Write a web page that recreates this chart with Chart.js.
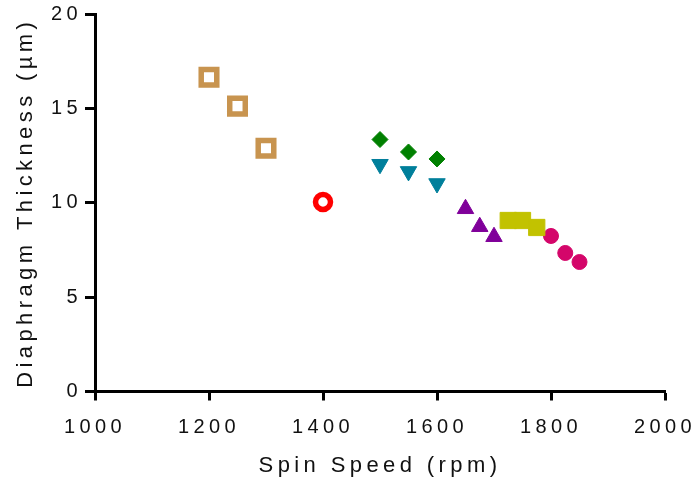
<!DOCTYPE html>
<html>
<head>
<meta charset="utf-8">
<script src="https://cdn.jsdelivr.net/npm/chart.js@4"></script>
<style>
html,body{margin:0;padding:0;background:#fff;}
#wrap{width:694px;height:482px;position:relative;}
</style>
</head>
<body>
<div id="wrap"><canvas id="c" width="694" height="482"></canvas></div>
<script>
// ---- data ----
const xTicks = [1000, 1200, 1400, 1600, 1800, 2000];
const yTicks = [0, 5, 10, 15, 20];
const xTitle = 'Spin Speed (rpm)';
const yTitle = 'Diaphragm Thickness (µm)';

const tanX = [1200, 1250, 1300];
const tanY = [16.65, 15.12, 12.89];
const redX = [1400];
const redY = [10.04];
const greenX = [1500, 1550, 1600];
const greenY = [13.35, 12.69, 12.32];
const tealX = [1500, 1550, 1600];
const tealY = [12.04, 11.66, 11.02];
const purpleX = [1650, 1675, 1700];
const purpleY = [9.68, 8.73, 8.2];
const yellowX = [1725, 1750, 1775];
const yellowY = [9.06, 9.06, 8.69];
const magentaX = [1800, 1825, 1850];
const magentaY = [8.24, 7.34, 6.86];

function pts(xs, ys) { return xs.map((x, i) => ({x: x, y: ys[i]})); }

const FONT = "'Liberation Sans', Arial, sans-serif";

const spacing = {
  id: 'spacing',
  beforeDraw(chart) { chart.ctx.letterSpacing = '4.4px'; }
};

new Chart(document.getElementById('c'), {
  type: 'scatter',
  data: {
    datasets: [
      {data: pts(tanX, tanY), pointStyle: 'rect', pointRadius: 11, borderWidth: 5.5, borderColor: '#C8944F', backgroundColor: '#ffffff'},
      {data: pts(redX, redY), pointStyle: 'circle', pointRadius: 7.5, borderWidth: 5.5, borderColor: '#FF0000', backgroundColor: '#ffffff'},
      {data: pts(greenX, greenY), pointStyle: 'rectRot', pointRadius: 8, borderWidth: 1, borderColor: '#008000', backgroundColor: '#008000'},
      {data: pts(tealX, tealY), pointStyle: 'triangle', rotation: 180, pointRadius: 9.5, borderWidth: 1, borderColor: '#007F9B', backgroundColor: '#007F9B'},
      {data: pts(purpleX, purpleY), pointStyle: 'triangle', pointRadius: 9.5, borderWidth: 1, borderColor: '#80009A', backgroundColor: '#80009A'},
      {data: pts(yellowX, yellowY), pointStyle: 'rect', pointRadius: 11.5, borderWidth: 1, borderColor: '#C2C200', backgroundColor: '#C2C200'},
      {data: pts(magentaX, magentaY), pointStyle: 'circle', pointRadius: 7.5, borderWidth: 1, borderColor: '#D4066A', backgroundColor: '#D4066A'}
    ]
  },
  options: {
    responsive: false,
    animation: false,
    devicePixelRatio: 1,
    layout: {autoPadding: false, padding: {left: 0, top: 14, right: 29, bottom: 0}},
    plugins: {legend: {display: false}, tooltip: {enabled: false}},
    elements: {point: {hoverRadius: 0}},
    scales: {
      x: {
        type: 'linear', min: 1000, max: 2000,
        afterBuildTicks(s) { s.ticks = xTicks.map(v => ({value: v})); },
        afterFit(s) { s.height = 90.5; s.paddingLeft = 0; s.paddingRight = 0; },
        border: {display: true, width: 3, color: '#000'},
        grid: {display: true, drawOnChartArea: false, drawTicks: true, tickLength: 9, tickWidth: 3, tickColor: '#000'},
        ticks: {autoSkip: false, maxRotation: 0, padding: 15, color: '#111', font: {family: FONT, size: 20},
                callback: v => String(v)},
        title: {display: true, text: xTitle, color: '#111', font: {family: FONT, size: 22}, padding: {top: 0, bottom: 3}}
      },
      y: {
        type: 'linear', min: 0, max: 20,
        afterBuildTicks(s) { s.ticks = yTicks.map(v => ({value: v})); },
        afterFit(s) { s.width = 95; s.paddingTop = 0; s.paddingBottom = 0; },
        border: {display: true, width: 3, color: '#000'},
        grid: {display: true, drawOnChartArea: false, drawTicks: true, tickLength: 10, tickWidth: 3, tickColor: '#000'},
        ticks: {padding: 3, color: '#111', font: {family: FONT, size: 20}, callback: v => String(v)},
        title: {display: true, text: yTitle, color: '#111', font: {family: FONT, size: 22}, padding: {top: 13, bottom: 0}}
      }
    }
  },
  plugins: [spacing]
});
</script>
</body>
</html>
